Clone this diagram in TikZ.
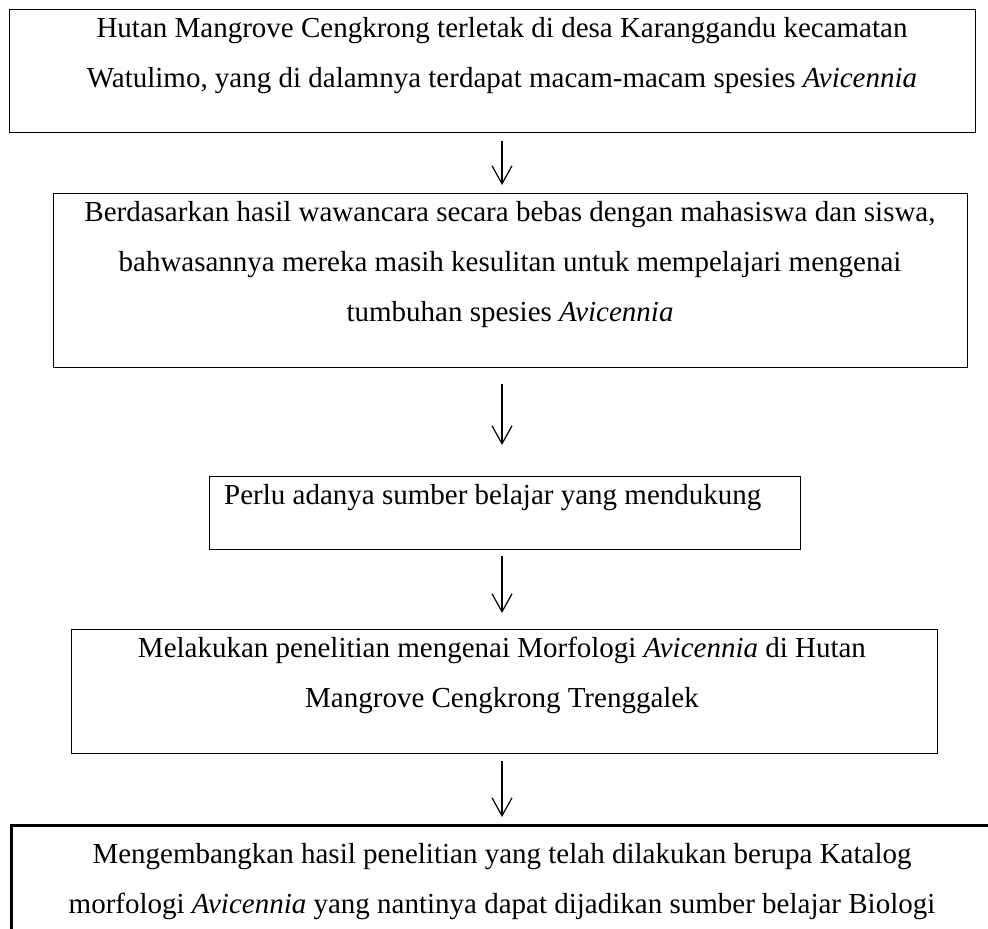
\documentclass[tikz,border=0pt]{standalone}
\usepackage{fontspec}
\setmainfont{Liberation Serif}
\usetikzlibrary{arrows.meta}
\begin{document}
\begin{tikzpicture}[x=1pt,y=-1pt,
  box/.style={draw, line width=1.3pt, rectangle, inner sep=0pt, anchor=north west},
  txt/.style={font=\fontsize{29}{50}\selectfont, inner sep=0pt, anchor=base},
  flow/.style={-{Straight Barb[length=18pt,width=20pt]}, line width=1.2pt}]
\useasboundingbox (0,0) rectangle (988,929);
\clip (0,0) rectangle (988,929);
% boxes
\node[box, minimum width=966pt, minimum height=123pt] (b1) at (9,9) {};
\node[box, minimum width=914pt, minimum height=174pt] (b2) at (53,193) {};
\node[box, minimum width=591pt, minimum height=73pt] (b3) at (209,476) {};
\node[box, minimum width=866pt, minimum height=124pt] (b4) at (71,629) {};
\node[box, line width=2.5pt, minimum width=1000pt, minimum height=200pt] (b5) at (10,824) {};
% texts
\node[txt] (t1a) at (502,37) {Hutan Mangrove Cengkrong terletak di desa Karanggandu kecamatan};
\node[txt] (t1b) at (502,87) {Watulimo, yang di dalamnya terdapat macam-macam spesies \textit{Avicennia}};
\node[txt] (t2a) at (510,221) {Berdasarkan hasil wawancara secara bebas dengan mahasiswa dan siswa,};
\node[txt] (t2b) at (510,271) {bahwasannya mereka masih kesulitan untuk mempelajari mengenai};
\node[txt] (t2c) at (510,321) {tumbuhan spesies \textit{Avicennia}};
\node[txt, anchor=base west] (t3) at (224,504) {Perlu adanya sumber belajar yang mendukung};
\node[txt] (t4a) at (502,657) {Melakukan penelitian mengenai Morfologi \textit{Avicennia} di Hutan};
\node[txt] (t4b) at (502,707) {Mangrove Cengkrong Trenggalek};
\node[txt] (t5a) at (502,863) {Mengembangkan hasil penelitian yang telah dilakukan berupa Katalog};
\node[txt] (t5b) at (502,913) {morfologi \textit{Avicennia} yang nantinya dapat dijadikan sumber belajar Biologi};
% arrows
\coordinate (ax) at (502,0);
\draw[flow, shorten <=8pt, shorten >=8pt] (b1.south -| ax) -- (b2.north -| ax);
\draw[flow, shorten <=16pt, shorten >=31pt] (b2.south -| ax) -- (b3.north -| ax);
\draw[flow, shorten <=6pt, shorten >=16pt] (b3.south -| ax) -- (b4.north -| ax);
\draw[flow, shorten <=7pt, shorten >=7pt] (b4.south -| ax) -- (b5.north -| ax);
\end{tikzpicture}
\end{document}
